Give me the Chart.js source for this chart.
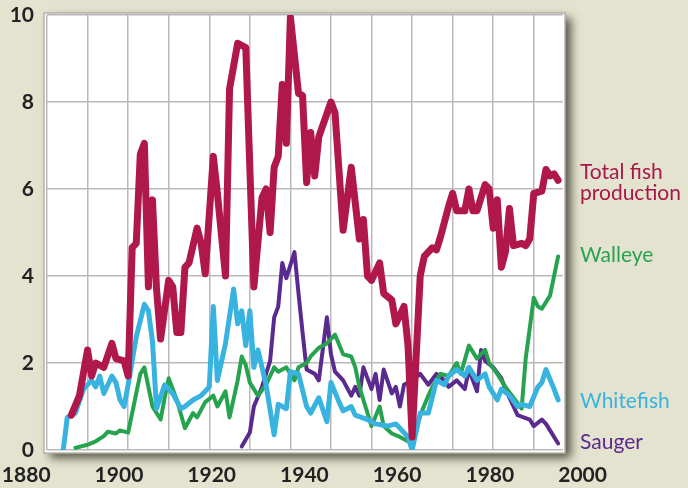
<!DOCTYPE html>
<html>
<head>
<meta charset="utf-8">
<script src="https://cdn.jsdelivr.net/npm/chart.js@4.4.0/dist/chart.umd.min.js"></script>
<style>
  html, body { margin: 0; padding: 0; background: #e4e3cf; }
  #wrap { position: relative; width: 688px; height: 488px; }
  .lbl { position: absolute; left: 580px; font-family: Lato, sans-serif; font-size: 21px; line-height: 21px; white-space: nowrap; }
</style>
</head>
<body>
<div id="wrap">
  <canvas id="chart" width="688" height="488"></canvas>
  <div class="lbl" style="top:160px;color:#a8174a">Total fish<br>production</div>
  <div class="lbl" style="top:243px;color:#27a350">Walleye</div>
  <div class="lbl" style="top:389px;color:#38b3e0">Whitefish</div>
  <div class="lbl" style="top:430px;color:#5b2a8e">Sauger</div>
</div>
<script>
// harvest
const totalYears = [1886,1888,1890,1891,1892,1894,1896,1897,1899,1900,1901,1902,1903,1904,1905,1906,1907,1908,1910,1911,1912,1913,1914,1915,1917,1918,1919,1921,1922,1924,1925,1927,1929,1931,1933,1934,1935,1936,1937,1938,1939,1940,1942,1943,1944,1945,1946,1947,1950,1951,1953,1955,1957,1958,1959,1960,1962,1963,1965,1966,1968,1969,1970,1972,1973,1975,1976,1977,1979,1980,1981,1983,1984,1985,1986,1988,1989,1990,1991,1992,1993,1994,1995,1997,1998,1999,2000,2002,2003,2004,2005,2006];
const totalValues = [0.8,1.25,2.3,1.7,2.0,1.9,2.45,2.1,2.05,1.7,4.65,4.75,6.8,7.05,3.75,5.75,3.7,2.55,3.9,3.75,2.7,2.7,4.2,4.3,5.1,4.75,4.05,6.75,5.9,4.0,8.3,9.35,9.25,3.75,5.8,6.0,5.0,6.5,6.75,8.4,7.05,9.95,8.2,8.15,6.15,7.3,6.3,7.2,8.0,7.75,5.05,6.5,4.85,5.3,4.0,3.9,4.3,3.6,3.45,2.9,3.3,2.4,0.3,4.0,4.45,4.65,4.6,4.9,5.6,5.9,5.5,5.5,6.0,5.5,5.5,6.1,6.0,5.1,5.75,4.2,4.55,5.55,4.7,4.75,4.7,4.85,5.9,5.95,6.45,6.3,6.35,6.2];

const whiteYears = [1884,1885,1887,1889,1891,1892,1893,1894,1896,1897,1898,1899,1900,1902,1904,1905,1906,1907,1909,1910,1911,1913,1914,1916,1918,1919,1920,1921,1922,1924,1926,1927,1928,1929,1930,1931,1932,1934,1936,1937,1939,1940,1942,1944,1945,1947,1949,1950,1952,1953,1955,1956,1959,1961,1964,1966,1969,1970,1972,1974,1976,1978,1979,1981,1983,1984,1986,1988,1989,1991,1992,1994,1996,1997,1999,2001,2002,2003,2005,2006];
const whiteValues = [0.0,0.75,0.85,1.4,1.6,1.45,1.7,1.3,1.7,1.55,1.15,1.0,1.5,2.6,3.35,3.2,2.5,0.95,1.5,1.4,1.3,0.95,1.0,1.15,1.25,1.35,1.45,3.3,1.6,2.45,3.7,2.9,3.2,2.4,3.2,1.9,2.3,1.5,0.35,1.05,0.95,1.8,1.75,1.0,0.85,1.2,0.65,1.55,1.1,0.9,1.0,0.8,0.7,0.6,0.55,0.6,0.3,0.0,0.85,0.85,1.6,1.5,1.7,1.85,1.7,1.9,1.6,1.75,1.45,1.15,1.4,1.25,1.0,1.05,1.0,1.45,1.55,1.85,1.4,1.15];

const wallYears = [1887,1890,1892,1894,1895,1897,1898,1900,1901,1902,1903,1904,1906,1907,1908,1909,1910,1912,1914,1916,1917,1919,1921,1922,1924,1925,1927,1928,1929,1930,1932,1934,1936,1937,1939,1941,1942,1944,1945,1947,1949,1951,1953,1955,1956,1957,1959,1960,1962,1963,1965,1967,1969,1970,1972,1974,1975,1977,1979,1981,1982,1984,1986,1988,1989,1991,1993,1995,1997,1998,2000,2001,2002,2004,2006];
const wallValues = [0.05,0.12,0.2,0.32,0.42,0.38,0.45,0.4,0.85,1.3,1.75,1.9,1.0,0.85,0.7,1.2,1.65,1.15,0.5,0.85,0.75,1.1,1.25,1.0,1.35,0.75,1.6,2.15,1.95,1.55,1.25,1.5,1.9,1.8,1.9,1.6,1.9,2.0,2.15,2.35,2.45,2.65,2.2,2.15,1.9,1.45,0.85,0.55,1.0,0.55,0.38,0.3,0.2,0.15,0.8,1.25,1.45,1.75,1.7,2.0,1.75,2.4,2.1,2.3,2.0,1.75,1.45,1.2,0.95,2.1,3.5,3.3,3.25,3.55,4.45];

const saugYears = [1928,1930,1931,1933,1935,1936,1937,1938,1939,1941,1942,1943,1944,1946,1947,1949,1950,1951,1953,1955,1956,1957,1958,1960,1961,1962,1963,1965,1966,1967,1968,1970,1972,1974,1976,1978,1979,1981,1983,1984,1986,1987,1988,1990,1992,1993,1995,1996,1999,2000,2002,2003,2004,2006];
const saugValues = [0.08,0.4,1.0,1.45,2.05,3.05,3.3,4.3,3.95,4.55,3.6,2.7,1.85,1.75,1.6,3.05,2.2,1.8,1.6,1.25,1.45,1.25,1.9,1.4,1.75,1.15,1.85,1.3,1.45,1.0,1.5,1.6,1.75,1.5,1.75,1.6,1.45,1.6,1.4,1.85,1.35,2.3,2.05,1.9,1.65,1.4,1.0,0.8,0.7,0.55,0.7,0.6,0.45,0.15];

// year labels under the plot (printed slightly stretched in the original)
const yearLabels = [1880, 1900, 1920, 1940, 1960, 1980, 2000];

const toPoints = (xs, ys) => xs.map((x, i) => ({ x: x, y: ys[i] }));

const tickFont = { family: "Lato, sans-serif", size: 21, weight: "bold" };

// white plot panel with drop shadow
const framePlugin = {
  id: "frame",
  beforeDraw(chart) {
    const { ctx, chartArea: a } = chart;
    ctx.save();
    ctx.shadowColor = "rgba(50,50,40,0.8)";
    ctx.shadowBlur = 9;
    ctx.shadowOffsetX = 6;
    ctx.shadowOffsetY = 5;
    ctx.fillStyle = "#ffffff";
    ctx.fillRect(a.left - 3, a.top - 2, a.width + 5, a.height + 5);
    ctx.restore();
    ctx.save();
    ctx.strokeStyle = "#b4b4aa";
    ctx.lineWidth = 1.5;
    ctx.strokeRect(a.left - 3, a.top - 2, a.width + 5, a.height + 5);
    ctx.restore();
  },
};

const line = (label, xs, ys, color, width) => ({
  label, data: toPoints(xs, ys), borderColor: color, borderWidth: width, xAxisID: "x", yAxisID: "y",
});

new Chart(document.getElementById("chart"), {
  type: "line",
  data: {
    datasets: [
      line("Total fish production", totalYears, totalValues, "#b0174b", 7),
      line("Whitefish", whiteYears, whiteValues, "#38b3e0", 5),
      line("Walleye", wallYears, wallValues, "#27a350", 4),
      line("Sauger", saugYears, saugValues, "#5b2a8e", 4),
    ],
  },
  options: {
    responsive: false,
    animation: false,
    layout: { padding: { top: 15, right: 125, left: 0, bottom: 0 } },
    elements: {
      point: { radius: 0 },
      line: { tension: 0, borderJoinStyle: "round", borderCapStyle: "round" },
    },
    plugins: { legend: { display: false }, tooltip: { enabled: false } },
    scales: {
      x: {
        type: "linear",
        min: 1880,
        max: 2007.2,
        bounds: "data",
        weight: 0,
        ticks: { display: false, stepSize: 10, includeBounds: false },
        grid: { color: "#b9b9b9", lineWidth: 1.5, drawTicks: false },
        border: { display: false },
        afterFit: (s) => { s.height = 0; s.paddingLeft = 0; s.paddingRight = 0; },
      },
      x2: {
        type: "linear",
        position: "bottom",
        min: 1884.48,
        max: 1995.78,
        bounds: "data",
        weight: 1,
        grid: { display: false, drawTicks: false },
        border: { display: false },
        afterBuildTicks: (s) => { s.ticks = yearLabels.map((v) => ({ value: v })); },
        ticks: { autoSkip: false, maxRotation: 0, padding: 13, color: "#222", font: tickFont, callback: (v) => String(v) },
        afterFit: (s) => { s.height = 38; s.paddingLeft = 0; s.paddingRight = 0; },
      },
      y: {
        min: 0,
        max: 10,
        ticks: { stepSize: 2, padding: 13, color: "#222", font: tickFont },
        grid: { color: "#b9b9b9", lineWidth: 1.5, drawTicks: false },
        border: { display: false },
        afterFit: (s) => { s.width = 47; s.paddingTop = 0; s.paddingBottom = 0; },
      },
    },
  },
  plugins: [framePlugin],
});
</script>
</body>
</html>
